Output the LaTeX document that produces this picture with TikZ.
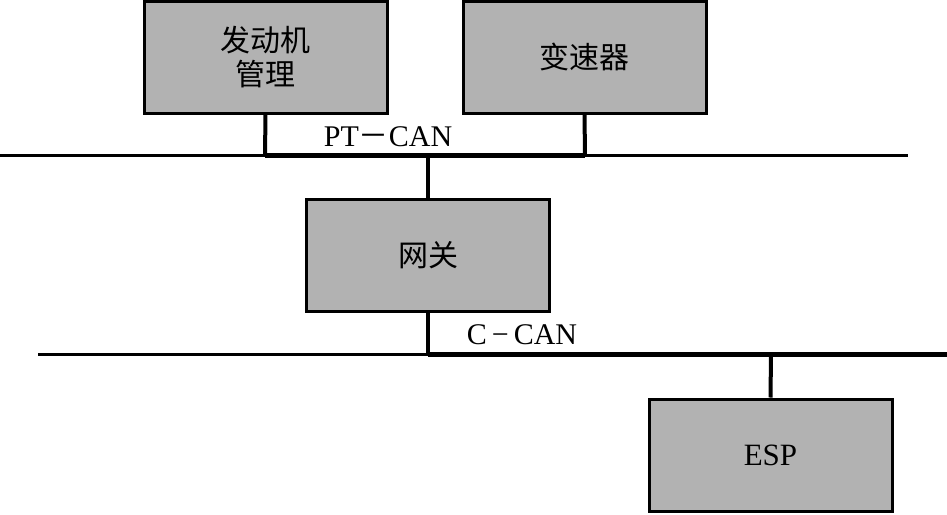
\documentclass[tikz,border=0pt]{standalone}
\usepackage{fontspec}
\setmainfont{Liberation Serif}
\newfontfamily\cjk{Noto Sans CJK SC}
\tikzset{
  ecu/.style={draw, line width=1.5pt, fill=black!30, minimum width=121.5pt,
    minimum height=56pt, inner sep=0pt, align=center, font=\cjk\fontsize{15}{17}\selectfont},
  bus/.style={line width=1.5pt},
  busthick/.style={line width=2.5pt},
  tap/.style={line width=2pt},
  buslabel/.style={inner sep=0pt, font=\fontsize{15}{17}\selectfont}
}
\begin{document}
\begin{tikzpicture}[x=0.5pt,y=-0.5pt]
  \useasboundingbox (0,0) rectangle (947,514);

  % control units
  \node[ecu] (engine) at (265.5,57) {发动机\\管理};
  \node[ecu] (gearbox) at (584.5,57) {变速器};
  \node[ecu] (gateway) at (428,255.5) {网关};
  \node[ecu, font=\rmfamily\fontsize{15.5}{17}\selectfont] (esp) at (770.5,455) {ESP};

  % PT-CAN bus
  \coordinate (ptl) at (0,155);
  \coordinate (ptr) at (908,155);
  \coordinate (pte) at (265,155);
  \coordinate (ptg) at (585,155);
  \coordinate (ptw) at (428,155);
  \draw[bus] (ptl) -- (ptr);
  \draw[busthick] (pte) -- (ptg);
  \draw[tap] (engine.south) -- (pte);
  \draw[tap] (gearbox.south) -- (ptg);
  \draw[tap] (ptw) -- (gateway.north);
  \node[buslabel] (ptlabel) at (388,137) {PT{\cjk －}CAN};

  % C-CAN bus
  \coordinate (cl) at (38,354);
  \coordinate (cr) at (947,354);
  \coordinate (cw) at (428,354);
  \coordinate (ce) at (771,354);
  \draw[bus] (cl) -- (cr);
  \draw[busthick] (cw) -- (cr);
  \draw[tap] (gateway.south) -- (cw);
  \draw[tap] (ce) -- (esp.north);
  \node[buslabel] (clabel) at (522,335) {C\,−\,CAN};
\end{tikzpicture}
\end{document}
